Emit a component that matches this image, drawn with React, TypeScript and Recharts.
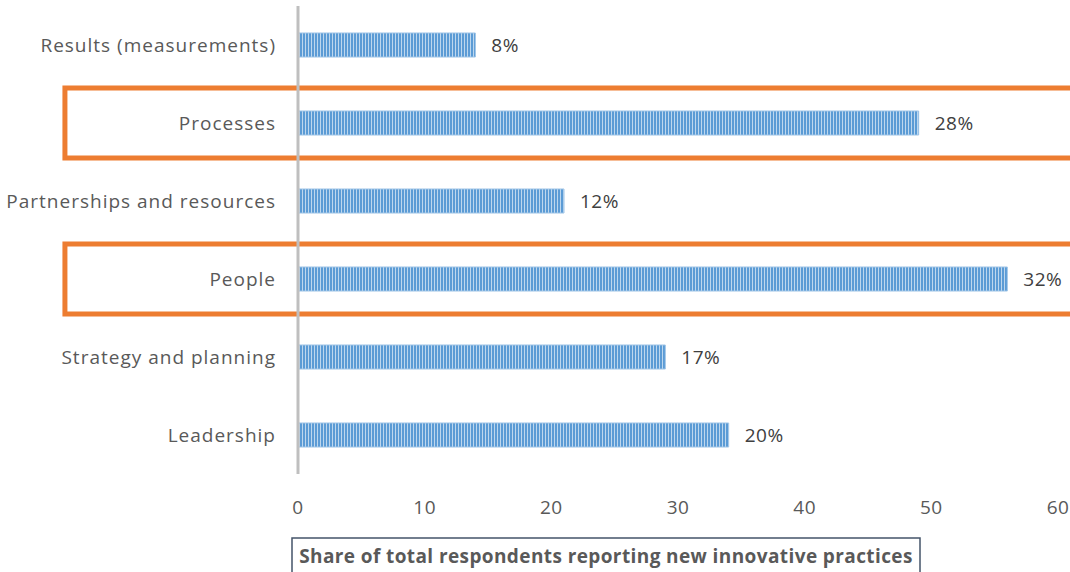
import { BarChart, Bar, XAxis, YAxis, LabelList, ReferenceArea } from "recharts";

const categories = [
  "Results (measurements)",
  "Processes",
  "Partnerships and resources",
  "People",
  "Strategy and planning",
  "Leadership",
];
const values = [14, 49, 21, 56, 29, 34];
const shares = ["8%", "28%", "12%", "32%", "17%", "20%"];
const highlighted = ["Processes", "People"];
const xTicks = [0, 10, 20, 30, 40, 50, 60];

const FONT = "'Open Sans', Lato, sans-serif";
const ORANGE = "#ed7d31";

const data = categories.map((name, i) => ({ name, value: values[i], share: shares[i] }));

// orange box round a highlighted row, a bit shorter than the band
function HighlightBox(props: any) {
  const { x, y, width, height } = props;
  const inset = 4;
  return (
    <rect
      x={x}
      y={y + inset}
      width={width}
      height={height - inset * 2}
      fill="none"
      stroke={ORANGE}
      strokeWidth={5}
    />
  );
}

function AxisTitle(props: any) {
  const { viewBox } = props;
  const left = viewBox.x - 6;
  const top = viewBox.y + viewBox.height - 34;
  const w = 628;
  return (
    <g>
      <rect x={left} y={top} width={w} height={40} fill="#fff" stroke="#44546a" strokeWidth={1.5} />
      <text
        x={left + w / 2}
        y={top + 20}
        textAnchor="middle"
        dominantBaseline="middle"
        fontFamily={FONT}
        fontWeight={700}
        fontSize={19}
        letterSpacing={0.4}
        fill="#595959"
      >
        Share of total respondents reporting new innovative practices
      </text>
    </g>
  );
}

export default function App() {
  return (
    <div style={{ position: "absolute", left: 0, top: 0, width: 1070, height: 572, background: "#fff" }}>
      <svg width={0} height={0} style={{ position: "absolute" }}>
        <defs>
          <pattern id="stripes" width={3} height={4} patternUnits="userSpaceOnUse">
            <rect width={3} height={4} fill="#bdd7ee" />
            <rect width={2} height={4} fill="#5b9bd5" />
          </pattern>
        </defs>
      </svg>
      <BarChart
        width={1070}
        height={572}
        data={data}
        layout="vertical"
        margin={{ top: 6, right: 12, left: 0, bottom: 0 }}
      >
        {highlighted.map((c) => (
          <ReferenceArea
            key={c}
            y1={c}
            y2={c}
            x1={-18.4}
            x2={62}
            ifOverflow="visible"
            shape={<HighlightBox />}
          />
        ))}
        <XAxis
          type="number"
          domain={[0, 60]}
          ticks={xTicks}
          axisLine={false}
          tickLine={false}
          tickMargin={21}
          height={98}
          tick={{ fontSize: 19, fill: "#595959", fontFamily: FONT, letterSpacing: 0.5 }}
          label={<AxisTitle />}
        />
        <YAxis
          type="category"
          dataKey="name"
          width={298}
          axisLine={{ stroke: "#bfbfbf", strokeWidth: 3 }}
          tickLine={false}
          tickMargin={16}
          tick={{ fontSize: 19, fill: "#595959", fontFamily: FONT, letterSpacing: 1 }}
        />
        <Bar
          dataKey="value"
          barSize={24}
          fill="url(#stripes)"
          stroke="#9dc3e6"
          strokeWidth={1}
          isAnimationActive={false}
        >
          <LabelList
            dataKey="share"
            position="right"
            offset={16}
            style={{ fontSize: 19, fill: "#404040", fontFamily: FONT, letterSpacing: 0.5 }}
          />
        </Bar>
      </BarChart>
    </div>
  );
}
